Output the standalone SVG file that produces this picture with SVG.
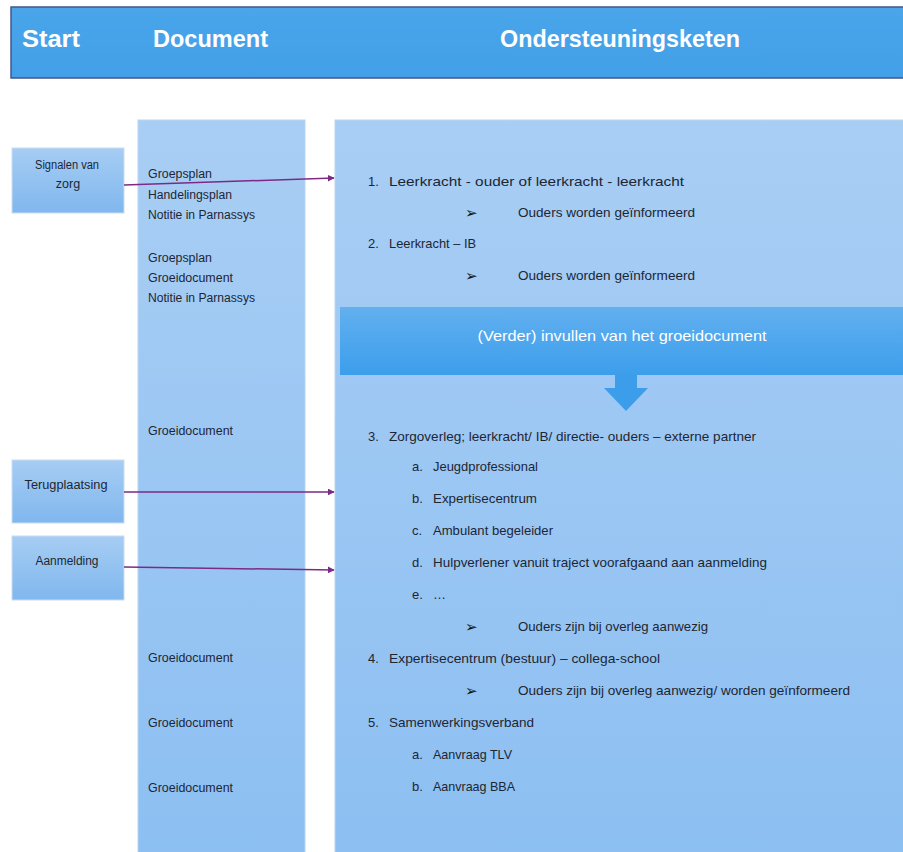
<svg xmlns="http://www.w3.org/2000/svg" width="903" height="852" viewBox="0 0 903 852">
<defs>
<linearGradient id="gCol" x1="0" y1="0" x2="0" y2="1"><stop offset="0" stop-color="#A9CEF4"/><stop offset="1" stop-color="#8CBFF2"/></linearGradient>
<linearGradient id="gBox" x1="0" y1="0" x2="0" y2="1"><stop offset="0" stop-color="#A6CDF3"/><stop offset="1" stop-color="#80B7EE"/></linearGradient>
<linearGradient id="gBan" x1="0" y1="0" x2="0" y2="1"><stop offset="0" stop-color="#62B0EF"/><stop offset="1" stop-color="#3C9EEB"/></linearGradient>
<linearGradient id="gHead" x1="0" y1="0" x2="0" y2="1"><stop offset="0" stop-color="#4AA5EA"/><stop offset="1" stop-color="#42A0E8"/></linearGradient>
<marker id="arr" viewBox="0 0 10 10" refX="9" refY="5" markerWidth="7" markerHeight="7" orient="auto" markerUnits="userSpaceOnUse"><path d="M0,0 L10,5 L0,10 z" fill="#7C2A86"/></marker>
<style>
text{font-family:"Liberation Sans",Arial,sans-serif;fill:#1E2633}
.h{font-size:24px;font-weight:bold;fill:#FFFFFF}
.m{font-size:13px}
.b{font-size:15px;font-family:"DejaVu Sans",sans-serif;fill:#111}
.d{font-size:12px}
.s{font-size:12.5px;text-anchor:middle}
.ban{font-size:15px;fill:#FFFFFF;text-anchor:middle}
.con{stroke:#7C2A86;stroke-width:1.5;fill:none;marker-end:url(#arr)}
.startbox{fill:url(#gBox);stroke:#C9DDF3;stroke-width:1}
</style>
</defs>
<rect width="903" height="852" fill="#FFFFFF"/>

<g id="header">
<rect x="11" y="7" width="894" height="71" fill="url(#gHead)" stroke="#45568A" stroke-width="1.5"/>
<text class="h" x="22" y="47" textLength="58" lengthAdjust="spacingAndGlyphs">Start</text>
<text class="h" x="153" y="47" textLength="115" lengthAdjust="spacingAndGlyphs">Document</text>
<text class="h" x="500" y="47" textLength="240" lengthAdjust="spacingAndGlyphs">Ondersteuningsketen</text>
</g>

<g id="document-column">
<rect x="138" y="120" width="167" height="740" fill="url(#gCol)" stroke="#B9D5F2" stroke-width="1"/>
<text class="d" x="148" y="178" textLength="64" lengthAdjust="spacingAndGlyphs">Groepsplan</text>
<text class="d" x="148" y="199" textLength="84" lengthAdjust="spacingAndGlyphs">Handelingsplan</text>
<text class="d" x="148" y="219" textLength="107" lengthAdjust="spacingAndGlyphs">Notitie in Parnassys</text>
<text class="d" x="148" y="262" textLength="64" lengthAdjust="spacingAndGlyphs">Groepsplan</text>
<text class="d" x="148" y="282" textLength="85" lengthAdjust="spacingAndGlyphs">Groeidocument</text>
<text class="d" x="148" y="302" textLength="107" lengthAdjust="spacingAndGlyphs">Notitie in Parnassys</text>
<text class="d" x="148" y="435" textLength="85" lengthAdjust="spacingAndGlyphs">Groeidocument</text>
<text class="d" x="148" y="662" textLength="85" lengthAdjust="spacingAndGlyphs">Groeidocument</text>
<text class="d" x="148" y="727" textLength="85" lengthAdjust="spacingAndGlyphs">Groeidocument</text>
<text class="d" x="148" y="792" textLength="85" lengthAdjust="spacingAndGlyphs">Groeidocument</text>
</g>

<g id="signalen">
<rect class="startbox" x="12" y="148" width="112" height="65"/>
<text class="s" x="67" y="169" textLength="64" lengthAdjust="spacingAndGlyphs">Signalen van</text>
<text class="s" x="68" y="188">zorg</text>
</g>
<g id="terugplaatsing">
<rect class="startbox" x="12" y="460" width="112" height="63"/>
<text class="s" x="66" y="489" textLength="83" lengthAdjust="spacingAndGlyphs">Terugplaatsing</text>
</g>
<g id="aanmelding">
<rect class="startbox" x="12" y="536" width="112" height="64"/>
<text class="s" x="67" y="565" textLength="63" lengthAdjust="spacingAndGlyphs">Aanmelding</text>
</g>

<g id="ondersteuningsketen">
<rect x="335" y="120" width="570" height="740" fill="url(#gCol)" stroke="#B9D5F2" stroke-width="1"/>
<text class="m" x="368" y="186">1.</text>
<text class="m" x="389" y="186" textLength="295" lengthAdjust="spacingAndGlyphs">Leerkracht - ouder  of  leerkracht - leerkracht</text>
<text class="b" x="465" y="218">➢</text>
<text class="m" x="518" y="217" textLength="177" lengthAdjust="spacingAndGlyphs">Ouders worden geïnformeerd</text>
<text class="m" x="368" y="248">2.</text>
<text class="m" x="389" y="248" textLength="87" lengthAdjust="spacingAndGlyphs">Leerkracht – IB</text>
<text class="b" x="465" y="281">➢</text>
<text class="m" x="518" y="280" textLength="177" lengthAdjust="spacingAndGlyphs">Ouders worden geïnformeerd</text>

<g id="banner">
<rect x="340" y="307" width="565" height="68" fill="url(#gBan)"/>
<text class="ban" x="622" y="341" textLength="289" lengthAdjust="spacingAndGlyphs">(Verder) invullen van het groeidocument</text>
<path d="M615,375 H637 V388 H648 L626,411 L604,388 H615 Z" fill="#3C9EEB"/>
</g>

<text class="m" x="368" y="441">3.</text>
<text class="m" x="389" y="441" textLength="367" lengthAdjust="spacingAndGlyphs">Zorgoverleg; leerkracht/ IB/ directie- ouders – externe partner</text>
<text class="m" x="412" y="471">a.</text>
<text class="m" x="433" y="471" textLength="105" lengthAdjust="spacingAndGlyphs">Jeugdprofessional</text>
<text class="m" x="412" y="503">b.</text>
<text class="m" x="433" y="503" textLength="104" lengthAdjust="spacingAndGlyphs">Expertisecentrum</text>
<text class="m" x="412" y="535">c.</text>
<text class="m" x="433" y="535" textLength="120" lengthAdjust="spacingAndGlyphs">Ambulant begeleider</text>
<text class="m" x="412" y="567">d.</text>
<text class="m" x="433" y="567" textLength="334" lengthAdjust="spacingAndGlyphs">Hulpverlener vanuit traject voorafgaand aan aanmelding</text>
<text class="m" x="412" y="599">e.</text>
<text class="m" x="433" y="599">…</text>
<text class="b" x="465" y="632">➢</text>
<text class="m" x="518" y="631" textLength="190" lengthAdjust="spacingAndGlyphs">Ouders zijn bij overleg aanwezig</text>
<text class="m" x="368" y="663">4.</text>
<text class="m" x="389" y="663" textLength="271" lengthAdjust="spacingAndGlyphs">Expertisecentrum (bestuur) – collega-school</text>
<text class="b" x="465" y="696">➢</text>
<text class="m" x="518" y="695" textLength="332" lengthAdjust="spacingAndGlyphs">Ouders zijn bij overleg aanwezig/ worden geïnformeerd</text>
<text class="m" x="368" y="727">5.</text>
<text class="m" x="389" y="727" textLength="145" lengthAdjust="spacingAndGlyphs">Samenwerkingsverband</text>
<text class="m" x="412" y="759">a.</text>
<text class="m" x="433" y="759" textLength="79" lengthAdjust="spacingAndGlyphs">Aanvraag TLV</text>
<text class="m" x="412" y="791">b.</text>
<text class="m" x="433" y="791" textLength="82" lengthAdjust="spacingAndGlyphs">Aanvraag BBA</text>
</g>

<g id="connectors">
<path class="con" d="M124,185 L334,178"/>
<path class="con" d="M124,492 L334,492"/>
<path class="con" d="M124,567 L334,570"/>
</g>
</svg>
